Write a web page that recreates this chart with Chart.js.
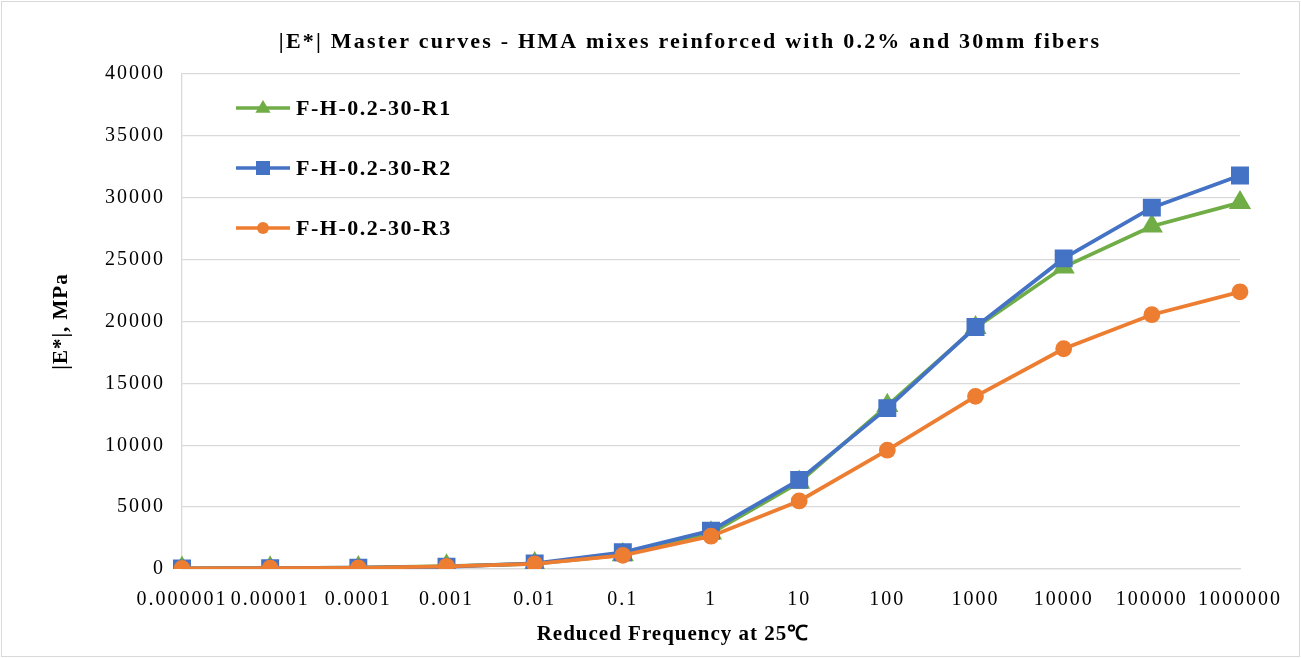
<!DOCTYPE html>
<html>
<head>
<meta charset="utf-8">
<script src="https://cdn.jsdelivr.net/npm/chart.js@4.4.1/dist/chart.umd.min.js"></script>
<style>
  body { margin: 0; background: #fff; }
  #wrap { width: 1301px; height: 658px; position: relative; }
</style>
</head>
<body>
<div id="wrap"><canvas id="masterCurve"></canvas></div>
<script>
// reduced frequency categories (log spaced, shown as categories)
const frequencies = ['0.000001', '0.00001', '0.0001', '0.001', '0.01', '0.1', '1', '10', '100', '1000', '10000', '100000', '1000000']

// |E*| values, MPa
const r1Values = [50, 70, 100, 240, 420, 1150, 2900, 7000, 13200, 19500, 24400, 27700, 29600]
const r2Values = [40, 60, 100, 180, 450, 1350, 3100, 7200, 13000, 19550, 25100, 29200, 31800]
const r3Values = [40, 60, 90, 220, 420, 1100, 2650, 5500, 9600, 13950, 17800, 20550, 22400]

const seriesNames = ['F-H-0.2-30-R1', 'F-H-0.2-30-R2', 'F-H-0.2-30-R3']
const yTicks = [0, 5000, 10000, 15000, 20000, 25000, 30000, 35000, 40000]

const chartTitle = '|E*| Master curves - HMA mixes reinforced with 0.2% and 30mm fibers'
const xTitle = 'Reduced Frequency at 25\u2103'
const yTitle = '|E*|, MPa'

const serif = "'Liberation Serif', 'Times New Roman', serif"
const gridGray = '#d9d9d9'

// white background, outer frame and tick letter spacing
const framePlugin = {
    id: 'frame',
    beforeLayout(chart) {
        chart.ctx.letterSpacing = '2px'
    },
    beforeDraw(chart) {
        const ctx = chart.ctx
        ctx.save()
        ctx.fillStyle = '#fff'
        ctx.fillRect(0, 0, chart.width, chart.height)
        ctx.strokeStyle = gridGray
        ctx.lineWidth = 1
        ctx.strokeRect(1.5, 1.5, chart.width - 3, chart.height - 3)
        ctx.restore()
        ctx.letterSpacing = '2px'
    }
}

function drawMarker(ctx, style, x, y, r) {
    ctx.beginPath()
    if (style === 'triangle') {
        ctx.moveTo(x, y - r)
        ctx.lineTo(x + r * 0.95, y + r * 0.6)
        ctx.lineTo(x - r * 0.95, y + r * 0.6)
        ctx.closePath()
    } else if (style === 'rect') {
        ctx.rect(x - r, y - r, r * 2, r * 2)
    } else {
        ctx.arc(x, y, r, 0, Math.PI * 2)
    }
    ctx.fill()
}

// legend marker sizes (half size, px)
const legendMarkerSize = [8, 7, 6]

// titles and the in-plot legend
const labelsPlugin = {
    id: 'labels',
    afterDraw(chart) {
        const ctx = chart.ctx
        const area = chart.chartArea
        ctx.save()
        ctx.fillStyle = '#000'
        ctx.textBaseline = 'middle'

        ctx.textAlign = 'center'
        ctx.font = 'bold 22px ' + serif
        ctx.letterSpacing = '2.2px'
        ctx.fillText(chartTitle, 690, 42)

        ctx.font = 'bold 21px ' + serif
        ctx.letterSpacing = '1px'
        ctx.fillText(xTitle, 673, 635)

        ctx.save()
        ctx.translate(62, (area.top + area.bottom) / 2)
        ctx.rotate(-Math.PI / 2)
        ctx.font = 'bold 21px ' + serif
        ctx.letterSpacing = '1px'
        ctx.fillText(yTitle, 0, 0)
        ctx.restore()

        // legend
        ctx.textAlign = 'left'
        ctx.font = 'bold 22px ' + serif
        ctx.letterSpacing = '1.5px'
        chart.data.datasets.forEach((ds, i) => {
            const y = area.top + 34 + i * 60
            const x0 = area.left + 54
            ctx.strokeStyle = ds.borderColor
            ctx.lineWidth = 3.5
            ctx.beginPath()
            ctx.moveTo(x0, y)
            ctx.lineTo(x0 + 54, y)
            ctx.stroke()
            ctx.fillStyle = ds.pointBackgroundColor
            drawMarker(ctx, ds.pointStyle, x0 + 27, y, legendMarkerSize[i])
            ctx.fillStyle = '#000'
            ctx.fillText(ds.label, x0 + 60, y + 1)
        })
        ctx.restore()
    }
}

const ctx = document.getElementById('masterCurve').getContext('2d')
const myChart = new Chart(ctx, {
    type: 'line',
    data: {
        labels: frequencies,
        datasets: [{
            label: seriesNames[0],
            data: r1Values,
            borderColor: '#70ad47',
            backgroundColor: '#70ad47',
            pointBackgroundColor: '#70ad47',
            pointBorderColor: '#70ad47',
            pointStyle: 'triangle',
            pointRadius: 9,
            borderWidth: 3.8,
            order: 3
        }, {
            label: seriesNames[1],
            data: r2Values,
            borderColor: '#4472c4',
            backgroundColor: '#4472c4',
            pointBackgroundColor: '#4472c4',
            pointBorderColor: '#4472c4',
            pointStyle: 'rect',
            pointRadius: 10,
            borderWidth: 3.8,
            order: 2
        }, {
            label: seriesNames[2],
            data: r3Values,
            borderColor: '#ed7d31',
            backgroundColor: '#ed7d31',
            pointBackgroundColor: '#ed7d31',
            pointBorderColor: '#ed7d31',
            pointStyle: 'circle',
            pointRadius: 6.5,
            borderWidth: 3.8,
            order: 1
        }]
    },
    options: {
        responsive: true,
        maintainAspectRatio: false,
        animation: false,
        layout: {
            padding: { top: 74, left: 0, right: 58, bottom: 0 }
        },
        plugins: {
            legend: { display: false },
            title: { display: false },
            tooltip: { enabled: false }
        },
        scales: {
            x: {
                type: 'category',
                offset: false,
                grid: { display: false, drawTicks: false },
                border: { display: true, color: gridGray, width: 1.3 },
                ticks: {
                    color: '#000',
                    font: { family: serif, size: 20 },
                    padding: 19,
                    maxRotation: 0,
                    autoSkip: false
                },
                afterFit(scale) { scale.height = 89 }
            },
            y: {
                min: 0,
                max: 40000,
                afterBuildTicks(scale) {
                    scale.ticks = yTicks.map(v => ({ value: v }))
                },
                grid: { color: gridGray, lineWidth: 1.3, drawTicks: false },
                border: { display: true, color: gridGray, width: 1.3 },
                ticks: {
                    color: '#000',
                    font: { family: serif, size: 20 },
                    padding: 17,
                    callback: (v) => String(v)
                },
                afterFit(scale) { scale.width = 182 }
            }
        }
    },
    plugins: [framePlugin, labelsPlugin]
})
</script>
</body>
</html>
